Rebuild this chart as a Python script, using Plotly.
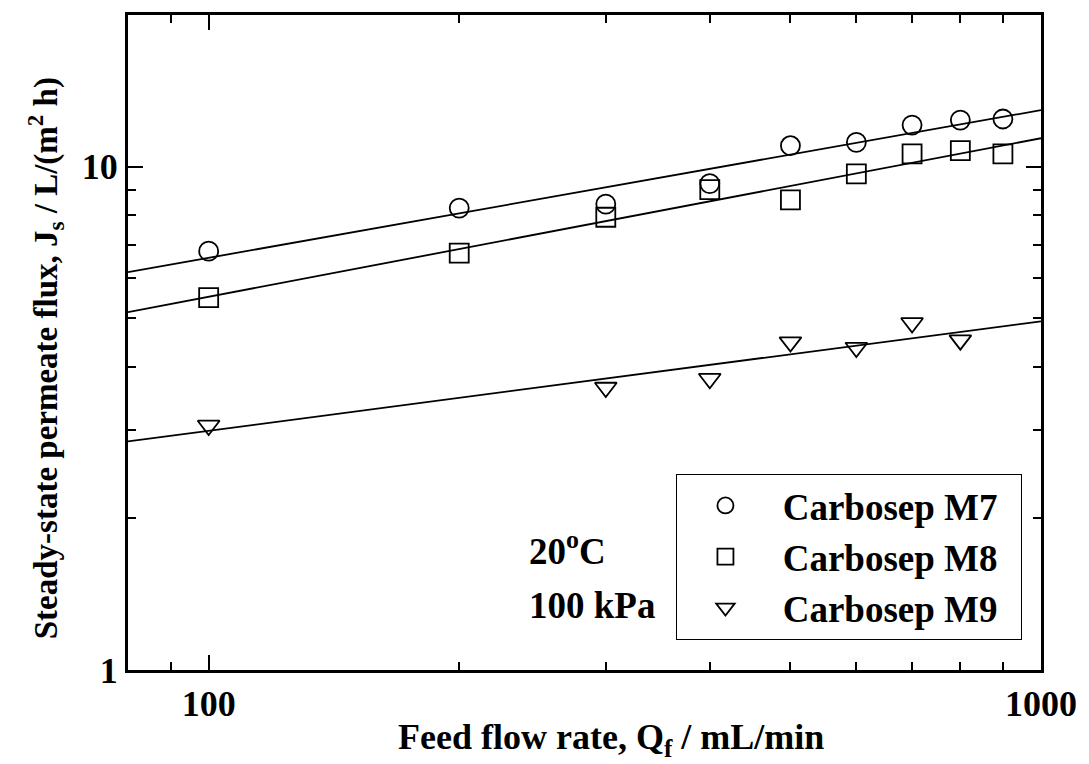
import numpy as np
import plotly.graph_objects as go

# Data
flow_m7 = [100, 200, 300, 400, 500, 600, 700, 800, 900]
flux_m7 = [6.79, 8.27, 8.42, 9.25, 11.0, 11.17, 12.09, 12.37, 12.43]

flow_m8 = [100, 200, 300, 400, 500, 600, 700, 800, 900]
flux_m8 = [5.49, 6.73, 7.93, 9.0, 8.59, 9.67, 10.6, 10.76, 10.6]

flow_m9 = [100, 300, 400, 500, 600, 700, 800]
flux_m9 = [3.06, 3.64, 3.79, 4.48, 4.37, 4.89, 4.52]

names = ["Carbosep M7", "Carbosep M8", "Carbosep M9"]
symbols = ["circle-open", "square-open", "triangle-down-open"]

x_tick_vals = [100, 1000]
x_tick_text = ["100", "1000"]
y_tick_vals = [1, 10]
y_tick_text = ["1", "10"]
x_minor = [90, 200, 300, 400, 500, 600, 700, 800, 900]
y_minor = [2, 3, 4, 5, 6, 7, 8, 9, 20]

FONT = "Liberation Serif"

fig = go.Figure()
series = [(flow_m7, flux_m7), (flow_m8, flux_m8), (flow_m9, flux_m9)]
fit_x = np.logspace(np.log10(80), 3, 50)
for (xs, ys), name, sym in zip(series, names, symbols):
    b, a = np.polyfit(np.log10(xs), np.log10(ys), 1)
    fig.add_trace(go.Scatter(x=fit_x, y=10 ** (a + b * np.log10(fit_x)), mode="lines",
                             line=dict(color="black", width=1.8), showlegend=False,
                             hoverinfo="skip"))
for (xs, ys), name, sym in zip(series, names, symbols):
    fig.add_trace(go.Scatter(x=xs, y=ys, mode="markers",
                             name="\u00a0" + name + "\u00a0\u00a0",
                             marker=dict(symbol=sym, size=19, color="black",
                                         line=dict(width=1.8, color="black"))))

axis_common = dict(type="log", showgrid=False, zeroline=False, showline=True,
                   linecolor="black", linewidth=3, mirror="allticks",
                   ticks="inside", ticklen=15, tickwidth=2, tickcolor="black",
                   tickfont=dict(family=FONT, size=36, color="black", weight="bold"))

fig.update_xaxes(**axis_common, range=[np.log10(80), 3],
                 tickvals=x_tick_vals, ticktext=x_tick_text,
                 minor=dict(tickvals=x_minor, ticks="inside", ticklen=8, tickwidth=2, tickcolor="black"))
fig.update_yaxes(**axis_common, range=[0, np.log10(20)],
                 tickvals=y_tick_vals, ticktext=y_tick_text,
                 minor=dict(tickvals=y_minor, ticks="inside", ticklen=8, tickwidth=2, tickcolor="black"))

# Axis titles
fig.add_annotation(x=0.5288, y=-0.106, xref="paper", yref="paper",
                   xanchor="center", yanchor="middle", showarrow=False,
                   text="Feed flow rate, Q<sub>f</sub> / mL/min",
                   font=dict(family=FONT, size=36, color="black", weight="bold"))
fig.add_annotation(x=-0.09, y=0.4757, xref="paper", yref="paper",
                   xanchor="center", yanchor="middle", showarrow=False, textangle=-90,
                   text="Steady-state permeate flux, J<sub>s</sub> / L/(m<sup>2</sup> h)",
                   font=dict(family=FONT, size=33, color="black", weight="bold"))

fig.add_annotation(x=0.437, y=0.186, xref="paper", yref="paper", xanchor="left",
                   yanchor="middle", text="20<sup>o</sup>C", showarrow=False,
                   font=dict(family=FONT, size=37, color="black", weight="bold"))
fig.add_annotation(x=0.437, y=0.099, xref="paper", yref="paper", xanchor="left",
                   yanchor="middle", text="100 kPa", showarrow=False,
                   font=dict(family=FONT, size=37, color="black", weight="bold"))

fig.update_layout(
    width=1089, height=764,
    margin=dict(l=128, r=36, t=12, b=94),
    paper_bgcolor="white", plot_bgcolor="white",
    font=dict(family=FONT, color="black"),
    legend=dict(x=0.6007, y=0.2994, xanchor="left", yanchor="top",
                bordercolor="black", borderwidth=1, bgcolor="white",
                font=dict(family=FONT, size=37, color="black", weight="bold"),
                itemwidth=86),
)

fig.write_html("out.html", config={"displayModeBar": False},
               post_script="document.body.style.margin='0px';")
